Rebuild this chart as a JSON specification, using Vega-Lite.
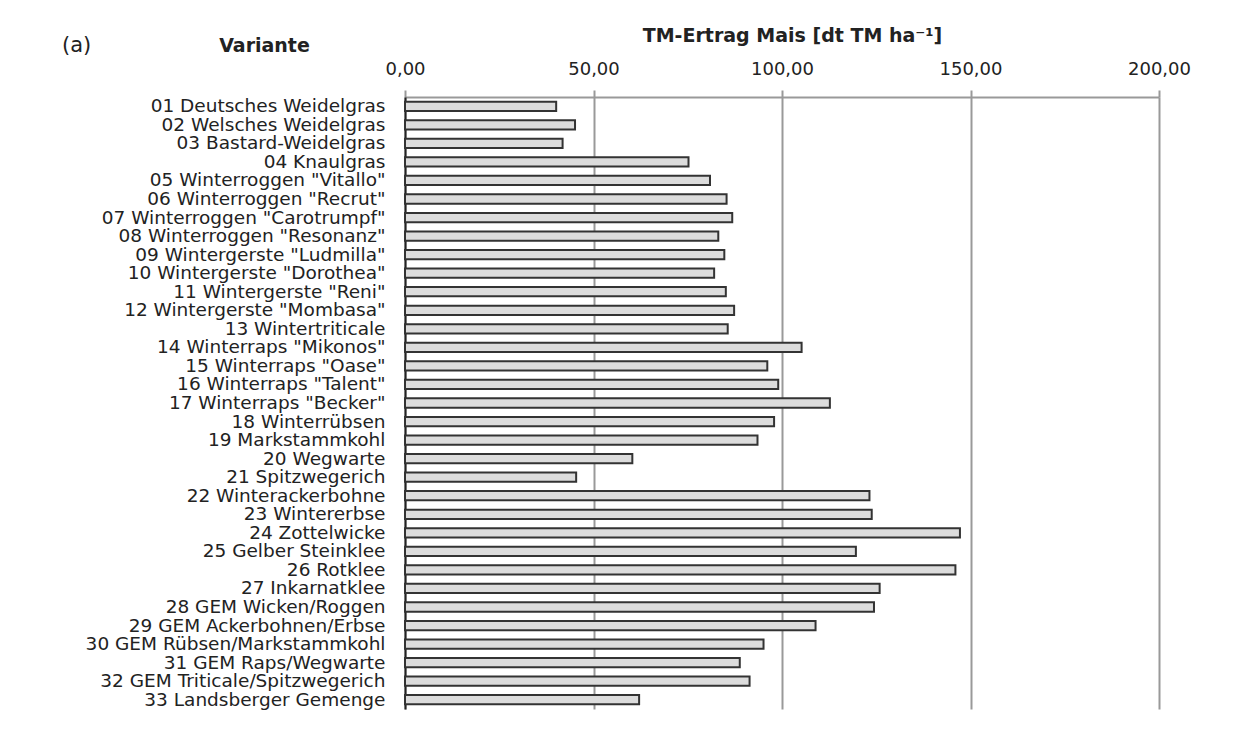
{
  "$schema": "https://vega.github.io/schema/vega-lite/v6.json",
  "autosize": "none",
  "width": 754,
  "height": 612,
  "padding": {"left": 405, "top": 97, "right": 100, "bottom": 22},
  "background": "white",
  "title": {
    "text": "(a)",
    "anchor": "start",
    "frame": "group",
    "dx": -343,
    "dy": 34,
    "fontSize": 21,
    "fontWeight": "normal",
    "font": "DejaVu Sans",
    "color": "#222222"
  },
  "data": {
    "values": [
      {"Variante": "01 Deutsches Weidelgras", "Ertrag": 40.1},
      {"Variante": "02 Welsches Weidelgras", "Ertrag": 45.1},
      {"Variante": "03 Bastard-Weidelgras", "Ertrag": 41.8},
      {"Variante": "04 Knaulgras", "Ertrag": 75.2},
      {"Variante": "05 Winterroggen \"Vitallo\"", "Ertrag": 80.9},
      {"Variante": "06 Winterroggen \"Recrut\"", "Ertrag": 85.3},
      {"Variante": "07 Winterroggen \"Carotrumpf\"", "Ertrag": 86.8},
      {"Variante": "08 Winterroggen \"Resonanz\"", "Ertrag": 83.1},
      {"Variante": "09 Wintergerste \"Ludmilla\"", "Ertrag": 84.7},
      {"Variante": "10 Wintergerste \"Dorothea\"", "Ertrag": 82.0},
      {"Variante": "11 Wintergerste \"Reni\"", "Ertrag": 85.1},
      {"Variante": "12 Wintergerste \"Mombasa\"", "Ertrag": 87.3},
      {"Variante": "13 Wintertriticale", "Ertrag": 85.6},
      {"Variante": "14 Winterraps \"Mikonos\"", "Ertrag": 105.2},
      {"Variante": "15 Winterraps \"Oase\"", "Ertrag": 96.1},
      {"Variante": "16 Winterraps \"Talent\"", "Ertrag": 99.0},
      {"Variante": "17 Winterraps \"Becker\"", "Ertrag": 112.7},
      {"Variante": "18 Winterrübsen", "Ertrag": 97.9},
      {"Variante": "19 Markstammkohl", "Ertrag": 93.5},
      {"Variante": "20 Wegwarte", "Ertrag": 60.3},
      {"Variante": "21 Spitzwegerich", "Ertrag": 45.4},
      {"Variante": "22 Winterackerbohne", "Ertrag": 123.2},
      {"Variante": "23 Wintererbse", "Ertrag": 123.8},
      {"Variante": "24 Zottelwicke", "Ertrag": 147.2},
      {"Variante": "25 Gelber Steinklee", "Ertrag": 119.6},
      {"Variante": "26 Rotklee", "Ertrag": 146.0},
      {"Variante": "27 Inkarnatklee", "Ertrag": 125.9},
      {"Variante": "28 GEM Wicken/Roggen", "Ertrag": 124.4},
      {"Variante": "29 GEM Ackerbohnen/Erbse", "Ertrag": 108.9},
      {"Variante": "30 GEM Rübsen/Markstammkohl", "Ertrag": 95.1},
      {"Variante": "31 GEM Raps/Wegwarte", "Ertrag": 88.8},
      {"Variante": "32 GEM Triticale/Spitzwegerich", "Ertrag": 91.4},
      {"Variante": "33 Landsberger Gemenge", "Ertrag": 62.1}
    ]
  },
  "mark": {
    "type": "bar",
    "fill": "#dcdcdc",
    "stroke": "#333333",
    "strokeWidth": 2
  },
  "encoding": {
    "y": {
      "field": "Variante",
      "type": "nominal",
      "sort": null,
      "scale": {"paddingInner": 0.5, "paddingOuter": 0.25},
      "axis": {
        "title": "Variante",
        "titleAngle": 0,
        "titleAlign": "center",
        "titleBaseline": "middle",
        "titleX": -141,
        "titleY": -52,
        "titleFont": "DejaVu Sans",
        "titleFontSize": 19,
        "titleFontWeight": "bold",
        "titleColor": "#222222",
        "labelFont": "DejaVu Sans",
        "labelFontSize": 18.5,
        "labelColor": "#222222",
        "labelLimit": 0,
        "labelPadding": 20,
        "labelBaseline": "middle",
        "labelOverlap": false,
        "labelBound": false,
        "ticks": false,
        "domainColor": "#222222",
        "domainWidth": 2,
        "grid": false
      }
    },
    "x": {
      "field": "Ertrag",
      "type": "quantitative",
      "scale": {"domain": [0, 200], "nice": false, "zero": true},
      "axis": {
        "orient": "top",
        "values": [0, 50, 100, 150, 200],
        "labelExpr": "replace(format(datum.value, '.2f'), '.', ',')",
        "labelFont": "DejaVu Sans",
        "labelFontSize": 18,
        "labelColor": "#222222",
        "labelPadding": 12,
        "labelFlush": false,
        "labelOverlap": false,
        "tickSize": 7,
        "tickColor": "#999999",
        "tickWidth": 2,
        "domainColor": "#999999",
        "domainWidth": 2,
        "grid": true,
        "gridColor": "#999999",
        "gridWidth": 2,
        "title": "TM-Ertrag Mais  [dt TM ha⁻¹]",
        "titleFont": "DejaVu Sans",
        "titleFontSize": 19,
        "titleFontWeight": "bold",
        "titleColor": "#222222",
        "titleX": 387,
        "titleY": -62,
        "titleBaseline": "middle"
      }
    }
  },
  "config": {
    "view": {"stroke": null}
  }
}
